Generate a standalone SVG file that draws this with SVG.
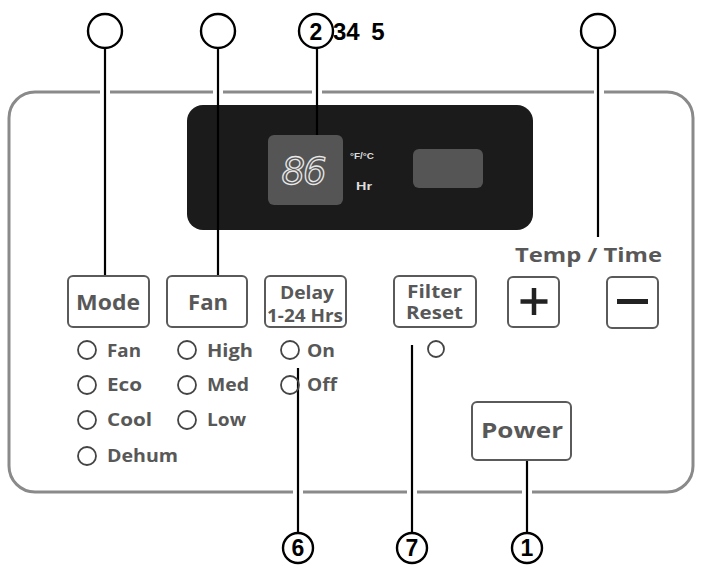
<svg xmlns="http://www.w3.org/2000/svg" width="704" height="571" viewBox="0 0 704 571">
<style>
.btn{fill:#fff;stroke:#5a5a5a;stroke-width:2}
.lbl{font-family:"Open Sans","Liberation Sans",sans-serif;font-weight:bold;fill:#585858}
.sm{font-size:18px}
.led{fill:none;stroke:#444;stroke-width:1.8}
.call{fill:#fff;stroke:#000;stroke-width:2.4}
.num{font-family:"Liberation Sans",Arial,sans-serif;font-weight:bold;font-size:23px;fill:#000;text-anchor:middle}
.ln{stroke:#000;stroke-width:2.2;fill:none}
.gap{fill:#fff}
</style>
<rect width="704" height="571" fill="#fff"/>
<g id="panel">
<rect x="9" y="92" width="684" height="400" rx="26" fill="none" stroke="#8a8a8a" stroke-width="3"/>
</g>
<g id="display">
<rect x="187" y="105" width="346" height="125" rx="16" fill="#1b1b1b"/>
<rect x="268" y="135" width="75" height="70" rx="6" fill="#555"/>
<text x="303" y="184" font-family="DejaVu Sans,sans-serif" font-size="37" font-style="italic" text-anchor="middle" fill="none" stroke="#e8e8e8" stroke-width="1.3" letter-spacing="-2">86</text>
<text x="350" y="159" font-family="Liberation Sans,sans-serif" font-size="9" font-weight="bold" fill="#ddd" textLength="24" lengthAdjust="spacingAndGlyphs">°F/°C</text>
<text x="356" y="190" font-family="Liberation Sans,sans-serif" font-size="10" font-weight="bold" fill="#ddd" textLength="16" lengthAdjust="spacingAndGlyphs">Hr</text>
<rect x="413" y="149" width="70" height="39" rx="6" fill="#555"/>
</g>
<g id="connectors">
<rect class="gap" x="100" y="88" width="10" height="8"/>
<rect class="gap" x="213" y="88" width="10" height="8"/>
<rect class="gap" x="312" y="88" width="10" height="8"/>
<rect class="gap" x="594" y="88" width="10" height="8"/>
<rect class="gap" x="293" y="488" width="10" height="8"/>
<rect class="gap" x="407" y="488" width="10" height="8"/>
<rect class="gap" x="522" y="488" width="10" height="8"/>
<line class="ln" x1="105" y1="47" x2="105" y2="276"/>
<line class="ln" x1="218" y1="47" x2="218" y2="276"/>
<line class="ln" x1="317" y1="47" x2="317" y2="135"/>
<line class="ln" x1="598" y1="48" x2="598" y2="237"/>
<line class="ln" x1="298" y1="368" x2="298" y2="532"/>
<line class="ln" x1="412" y1="345" x2="412" y2="532"/>
<line class="ln" x1="527" y1="460" x2="527" y2="532"/>
</g>
<g id="callout-top-1"><circle class="call" cx="105" cy="31" r="17"/></g>
<g id="callout-top-2"><circle class="call" cx="218" cy="31" r="17"/></g>
<g id="callout-2345"><circle class="call" cx="316" cy="31" r="17"/><text class="num" x="316" y="40">2</text><text x="333" y="40" font-family="Liberation Sans,Arial,sans-serif" font-weight="bold" font-size="24">34<tspan dx="5"> 5</tspan></text></g>
<g id="callout-top-4"><circle class="call" cx="598" cy="31" r="17"/></g>
<g id="callout-6"><circle class="call" cx="298" cy="548" r="15"/><text class="num" x="298" y="556">6</text></g>
<g id="callout-7"><circle class="call" cx="412" cy="548" r="15"/><text class="num" x="412" y="556">7</text></g>
<g id="callout-1"><circle class="call" cx="527" cy="548" r="15"/><text class="num" x="527" y="556">1</text></g>
<g id="mode">
<rect class="btn" x="68" y="276" width="81" height="51" rx="5"/>
<text class="lbl" x="76" y="310" font-size="21" textLength="64" lengthAdjust="spacingAndGlyphs">Mode</text>
<circle class="led" cx="87" cy="350" r="9"/><text class="lbl sm" x="107" y="357" textLength="34" lengthAdjust="spacingAndGlyphs">Fan</text>
<circle class="led" cx="87" cy="385" r="9"/><text class="lbl sm" x="107" y="391" textLength="35" lengthAdjust="spacingAndGlyphs">Eco</text>
<circle class="led" cx="87" cy="420" r="9"/><text class="lbl sm" x="107" y="426" textLength="45" lengthAdjust="spacingAndGlyphs">Cool</text>
<circle class="led" cx="87" cy="456" r="9"/><text class="lbl sm" x="107" y="462" textLength="71" lengthAdjust="spacingAndGlyphs">Dehum</text>
</g>
<g id="fan">
<rect class="btn" x="167" y="276" width="80" height="51" rx="5"/>
<text class="lbl" x="188" y="310" font-size="21" textLength="40" lengthAdjust="spacingAndGlyphs">Fan</text>
<circle class="led" cx="187" cy="350" r="9"/><text class="lbl sm" x="207" y="357" textLength="46" lengthAdjust="spacingAndGlyphs">High</text>
<circle class="led" cx="187" cy="385" r="9"/><text class="lbl sm" x="207" y="391" textLength="42" lengthAdjust="spacingAndGlyphs">Med</text>
<circle class="led" cx="187" cy="420" r="9"/><text class="lbl sm" x="207" y="426" textLength="39" lengthAdjust="spacingAndGlyphs">Low</text>
</g>
<g id="delay">
<rect class="btn" x="265" y="276" width="81" height="51" rx="5"/>
<text class="lbl" x="280" y="299" font-size="18" textLength="54" lengthAdjust="spacingAndGlyphs">Delay</text>
<text class="lbl" x="267" y="322" font-size="18" textLength="76" lengthAdjust="spacingAndGlyphs">1-24 Hrs</text>
<circle class="led" cx="290" cy="350" r="9"/><text class="lbl sm" x="307" y="357" textLength="28" lengthAdjust="spacingAndGlyphs">On</text>
<circle class="led" cx="290" cy="385" r="9"/><text class="lbl sm" x="307" y="391" textLength="30" lengthAdjust="spacingAndGlyphs">Off</text>
</g>
<g id="filter">
<rect class="btn" x="394" y="276" width="82" height="51" rx="5"/>
<text class="lbl" x="407" y="298" font-size="17" textLength="55" lengthAdjust="spacingAndGlyphs">Filter</text>
<text class="lbl" x="406" y="319" font-size="17" textLength="57" lengthAdjust="spacingAndGlyphs">Reset</text>
<circle class="led" cx="436" cy="349" r="8"/>
</g>
<g id="temp">
<text class="lbl" x="515" y="262" font-size="20" textLength="147" lengthAdjust="spacingAndGlyphs">Temp / Time</text>
<rect class="btn" x="508" y="277" width="51" height="50" rx="5"/>
<path d="M534 288V315M520.5 301.5H547.5" stroke="#222" stroke-width="4.5"/>
<rect class="btn" x="607" y="277" width="51" height="51" rx="5"/>
<path d="M617 301.5H648" stroke="#222" stroke-width="5"/>
</g>
<g id="power">
<rect class="btn" x="472" y="402" width="99" height="58" rx="5"/>
<text class="lbl" x="481" y="438" font-size="21" textLength="82" lengthAdjust="spacingAndGlyphs">Power</text>
</g>
</svg>
